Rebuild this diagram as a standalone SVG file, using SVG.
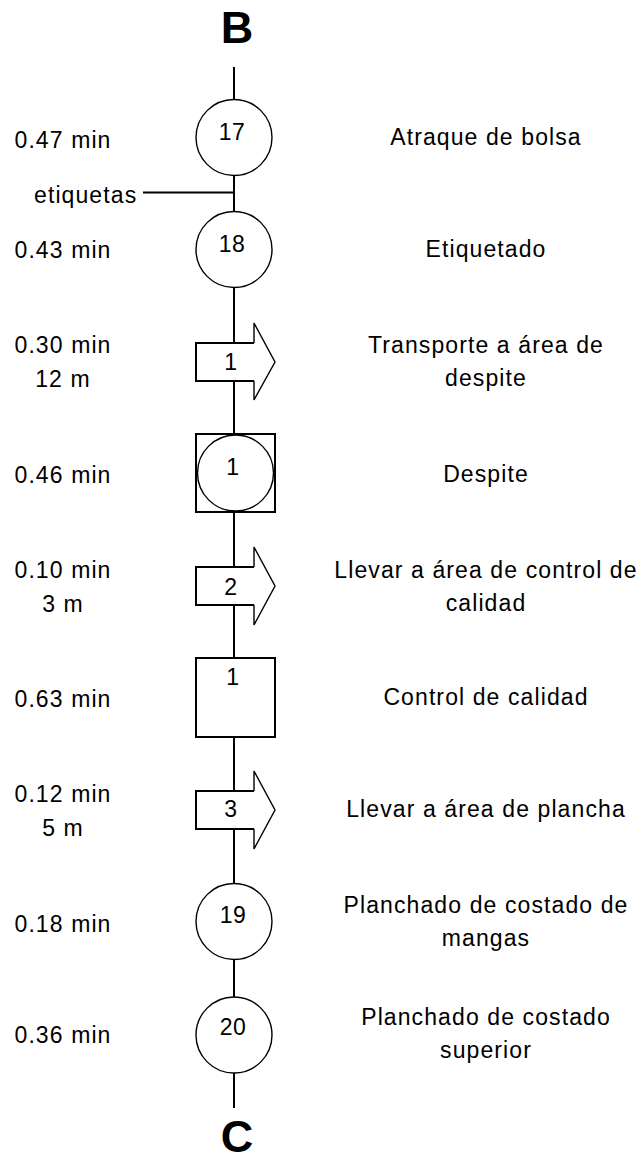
<svg xmlns="http://www.w3.org/2000/svg" width="643" height="1163" viewBox="0 0 643 1163">
<style>
text{font-family:"Liberation Sans",Arial,sans-serif;fill:#000}
.t{font-size:23px;letter-spacing:1.1px}
.l{text-anchor:middle}
.r{text-anchor:middle}
.n{font-size:23px;text-anchor:middle;letter-spacing:0.5px}
.big{font-size:45px;font-weight:bold;text-anchor:middle}
.ln{stroke:#000;stroke-width:2;fill:none}
.c{stroke:#000;stroke-width:1.4;fill:#fff}
.bx{stroke:#000;stroke-width:2;fill:#fff}
.hd{stroke:#000;stroke-width:1.4;fill:none}
</style>
<rect width="643" height="1163" fill="#fff"/>
<text class="big" x="237" y="43">B</text>
<text class="big" x="237" y="1152">C</text>
<g id="connectors">
<line class="ln" x1="234" y1="67" x2="234" y2="100"/>
<line class="ln" x1="234" y1="175" x2="234" y2="212"/>
<line class="ln" x1="143" y1="192.5" x2="234" y2="192.5"/>
<line class="ln" x1="234" y1="287" x2="234" y2="343"/>
<line class="ln" x1="234" y1="381" x2="234" y2="434"/>
<line class="ln" x1="234" y1="512" x2="234" y2="567"/>
<line class="ln" x1="234" y1="605" x2="234" y2="658"/>
<line class="ln" x1="234" y1="737" x2="234" y2="791"/>
<line class="ln" x1="234" y1="829" x2="234" y2="884"/>
<line class="ln" x1="234" y1="960" x2="234" y2="997"/>
<line class="ln" x1="234" y1="1073" x2="234" y2="1108"/>
</g>
<g id="n17">
<circle class="c" cx="234" cy="137.5" r="38"/>
<text class="n" x="232" y="140">17</text>
<text class="t l" x="63" y="148">0.47 min</text>
<text class="t r" x="486" y="145">Atraque de bolsa</text>
</g>
<g id="etiquetas">
<text class="t" x="34" y="203">etiquetas</text>
</g>
<g id="n18">
<circle class="c" cx="234" cy="249.5" r="38"/>
<text class="n" x="232" y="252">18</text>
<text class="t l" x="63" y="258">0.43 min</text>
<text class="t r" x="486" y="257">Etiquetado</text>
</g>
<g id="t1">
<path class="bx" d="M254 343 H196 V381 H254"/>
<path class="hd" d="M254 343 V323 L275 362 L254 400 V381"/>
<text class="n" x="231" y="370">1</text>
<text class="t l" x="63" y="353">0.30 min</text>
<text class="t l" x="63" y="387">12 m</text>
<text class="t r" x="486" y="353">Transporte a área de</text>
<text class="t r" x="486" y="386">despite</text>
</g>
<g id="c1">
<rect class="bx" x="196" y="434" width="79" height="78"/>
<circle class="c" cx="235.5" cy="473" r="38"/>
<text class="n" x="233" y="475">1</text>
<text class="t l" x="63" y="483">0.46 min</text>
<text class="t r" x="486" y="482">Despite</text>
</g>
<g id="t2">
<path class="bx" d="M254 567 H196 V605 H254"/>
<path class="hd" d="M254 567 V547 L275 586 L254 625 V605"/>
<text class="n" x="231" y="595">2</text>
<text class="t l" x="63" y="578">0.10 min</text>
<text class="t l" x="63" y="612">3 m</text>
<text class="t r" x="486" y="578">Llevar a área de control de</text>
<text class="t r" x="486" y="611">calidad</text>
</g>
<g id="i1">
<rect class="bx" x="196" y="658" width="79" height="79"/>
<text class="n" x="233" y="685">1</text>
<text class="t l" x="63" y="707">0.63 min</text>
<text class="t r" x="486" y="705">Control de calidad</text>
</g>
<g id="t3">
<path class="bx" d="M254 791 H196 V829 H254"/>
<path class="hd" d="M254 791 V771 L275 810 L254 849 V829"/>
<text class="n" x="231" y="817">3</text>
<text class="t l" x="63" y="802">0.12 min</text>
<text class="t l" x="63" y="836">5 m</text>
<text class="t r" x="486" y="817">Llevar a área de plancha</text>
</g>
<g id="n19">
<circle class="c" cx="234" cy="921.5" r="38"/>
<text class="n" x="233" y="923">19</text>
<text class="t l" x="63" y="932">0.18 min</text>
<text class="t r" x="486" y="913">Planchado de costado de</text>
<text class="t r" x="486" y="946">mangas</text>
</g>
<g id="n20">
<circle class="c" cx="234" cy="1035" r="38"/>
<text class="n" x="233" y="1035">20</text>
<text class="t l" x="63" y="1043">0.36 min</text>
<text class="t r" x="486" y="1025">Planchado de costado</text>
<text class="t r" x="486" y="1058">superior</text>
</g>
</svg>
